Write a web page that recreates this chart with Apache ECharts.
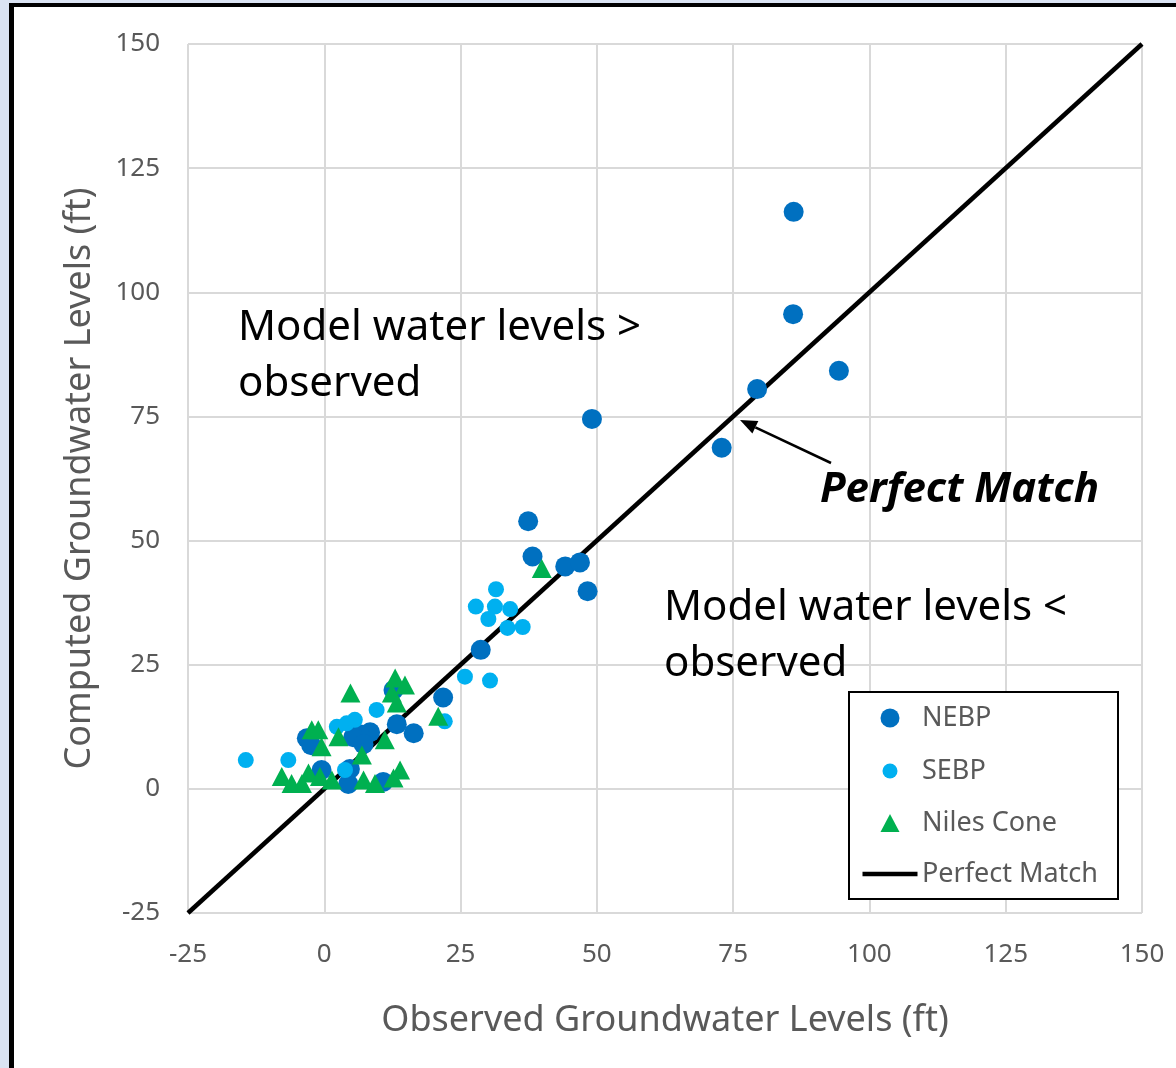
<!DOCTYPE html>
<html>
<head>
<meta charset="utf-8">
<script src="https://cdn.jsdelivr.net/npm/echarts@6/dist/echarts.min.js"></script>
<style>
  html, body { margin: 0; padding: 0; background: #dae3f3; }
  #frame { position: absolute; left: 9px; top: 3px; width: 1167px; height: 1065px;
           background: #ffffff; border-left: 5px solid #000; border-top: 4px solid #000;
           box-sizing: border-box; }
  #chart { position: absolute; left: 0; top: 0; width: 1176px; height: 1068px; }
</style>
</head>
<body>
<div id="frame"></div>
<div id="chart"></div>
<script>
// Observed vs computed groundwater levels (ft), by basin
const nebp = [
  [86.1, 116.2], [86.0, 95.6], [94.4, 84.2], [79.4, 80.5], [72.9, 68.7],
  [49.1, 74.5], [37.4, 53.9], [38.2, 46.8], [44.2, 44.8], [46.9, 45.6],
  [48.3, 39.8], [28.7, 28.0], [21.8, 18.4], [16.4, 11.2], [13.3, 13.0],
  [12.7, 19.9], [8.4, 11.4], [6.5, 11.0], [5.3, 10.4], [7.2, 9.0],
  [-3.2, 10.2], [-2.4, 8.8], [-0.5, 3.8], [4.4, 1.0], [4.7, 4.0], [10.8, 1.4]
];
const sebp = [
  [-14.4, 5.8], [-6.6, 5.8], [2.3, 12.5], [4.1, 13.2], [5.6, 13.9],
  [9.6, 15.9], [3.8, 3.8], [22.1, 13.6], [25.8, 22.6], [30.4, 21.8],
  [27.8, 36.7], [31.3, 36.7], [34.1, 36.2], [30.1, 34.2], [33.6, 32.4],
  [36.4, 32.6], [31.5, 40.2]
];
const nilesCone = [
  [39.9, 44.4], [20.9, 14.6], [13.0, 22.3], [14.8, 20.9], [12.4, 19.3],
  [13.3, 17.3], [11.1, 9.9], [4.8, 19.3], [6.9, 6.8], [2.6, 10.5],
  [-2.3, 11.9], [-1.1, 11.9], [-0.5, 8.5], [-7.8, 2.5], [-6.0, 1.1],
  [-4.1, 1.1], [-2.9, 3.2], [-0.8, 2.5], [1.4, 1.8], [7.2, 1.8],
  [9.3, 1.1], [12.7, 2.2], [13.9, 3.8]
];
const perfectMatch = [[-25, -25], [150, 150]];

const axisMin = -25;
const axisMax = 150;
const axisStep = 25;

const FONT = 'Noto Sans';
const GREY = '#595959';

const chart = echarts.init(document.getElementById('chart'), null, { renderer: 'canvas' });

// arrow from the "Perfect Match" note to the 1:1 line
const tail = [831, 463];
const tip = [740, 420];
const dx = tip[0] - tail[0], dy = tip[1] - tail[1];
const len = Math.sqrt(dx * dx + dy * dy);
const ux = dx / len, uy = dy / len;
const headLen = 17, headHalf = 7;
const bx = tip[0] - ux * headLen, by = tip[1] - uy * headLen;
const arrowHead = [
  [tip[0], tip[1]],
  [bx - uy * headHalf, by + ux * headHalf],
  [bx + uy * headHalf, by - ux * headHalf]
];

// one legend block per entry so each swatch keeps its own size;
// swatches are centred on x = 890 and labels start near x = 922
const LEGEND_ICON_X = 890;
const LEGEND_TEXT_X = 922;
function legendFor(name, icon, top, w, h) {
  const left = LEGEND_ICON_X - w / 2;
  return {
    data: [{ name: name, icon: icon }],
    left: left,
    top: top,
    orient: 'vertical',
    padding: 0,
    itemWidth: w,
    itemHeight: h,
    itemGap: 0,
    symbolKeepAspect: true,
    selectedMode: false,
    textStyle: { fontFamily: FONT, fontSize: 27, color: GREY, lineHeight: 30,
                 padding: [0, 0, 0, LEGEND_TEXT_X - (left + w + 5)] }
  };
}

const option = {
  backgroundColor: 'transparent',
  animation: false,
  grid: { left: 188, right: 34, top: 44, bottom: 155 },
  xAxis: {
    type: 'value', min: axisMin, max: axisMax, interval: axisStep,
    name: 'Observed Groundwater Levels (ft)',
    nameLocation: 'middle', nameGap: 90,
    nameTextStyle: { fontFamily: FONT, fontSize: 36, color: GREY },
    axisLine: { show: false }, axisTick: { show: false },
    axisLabel: { fontFamily: FONT, fontSize: 26, color: GREY, margin: 29 },
    splitLine: { show: true, lineStyle: { color: '#d9d9d9', width: 2 } }
  },
  yAxis: {
    type: 'value', min: axisMin, max: axisMax, interval: axisStep,
    name: 'Computed Groundwater Levels (ft)',
    nameLocation: 'middle', nameGap: 90,
    nameTextStyle: { fontFamily: FONT, fontSize: 36, color: GREY },
    axisLine: { show: false }, axisTick: { show: false },
    axisLabel: { fontFamily: FONT, fontSize: 26, color: GREY, margin: 28 },
    splitLine: { show: true, lineStyle: { color: '#d9d9d9', width: 2 } }
  },
  legend: [
    legendFor('NEBP', 'circle', 703, 19, 19),
    legendFor('SEBP', 'circle', 756, 15, 15),
    legendFor('Niles Cone', 'triangle', 808, 19, 18),
    legendFor('Perfect Match', 'path://M0,0L55,0L55,4.5L0,4.5Z', 859, 55, 20)
  ],
  series: [
    {
      name: 'Perfect Match', type: 'line', data: perfectMatch,
      symbol: 'none', lineStyle: { color: '#000000', width: 4.5 },
      itemStyle: { color: '#000000' }, z: 1, silent: true
    },
    {
      name: 'NEBP', type: 'scatter', data: nebp, symbol: 'circle', symbolSize: 20,
      itemStyle: { color: '#0070c0', opacity: 1 }, z: 2
    },
    {
      name: 'SEBP', type: 'scatter', data: sebp, symbol: 'circle', symbolSize: 16,
      itemStyle: { color: '#00b0f0', opacity: 1 }, z: 2
    },
    {
      name: 'Niles Cone', type: 'scatter', data: nilesCone, symbol: 'triangle', symbolSize: [20, 19],
      itemStyle: { color: '#00b050', opacity: 1 }, z: 2
    }
  ],
  graphic: [
    {
      type: 'rect', z: 3, shape: { x: 849, y: 692, width: 269, height: 207 },
      style: { fill: '#ffffff', stroke: '#000000', lineWidth: 2 }
    },
    {
      type: 'text', z: 5, left: 238, top: 300,
      style: { text: 'Model water levels >\nobserved', fontFamily: FONT, fontSize: 42,
               lineHeight: 56, fill: '#000000' }
    },
    {
      type: 'text', z: 5, left: 664, top: 580,
      style: { text: 'Model water levels <\nobserved', fontFamily: FONT, fontSize: 42,
               lineHeight: 56, fill: '#000000' }
    },
    {
      type: 'text', z: 5, left: 820, top: 463,
      style: { text: 'Perfect Match', fontFamily: FONT, fontSize: 42, fontWeight: 'bold',
               fontStyle: 'italic', lineHeight: 54, fill: '#000000' }
    },
    {
      type: 'line', z: 5,
      shape: { x1: tail[0], y1: tail[1], x2: bx, y2: by },
      style: { stroke: '#000000', lineWidth: 2.5 }
    },
    {
      type: 'polygon', z: 5,
      shape: { points: arrowHead },
      style: { fill: '#000000' }
    }
  ]
};

chart.setOption(option);
</script>
</body>
</html>
